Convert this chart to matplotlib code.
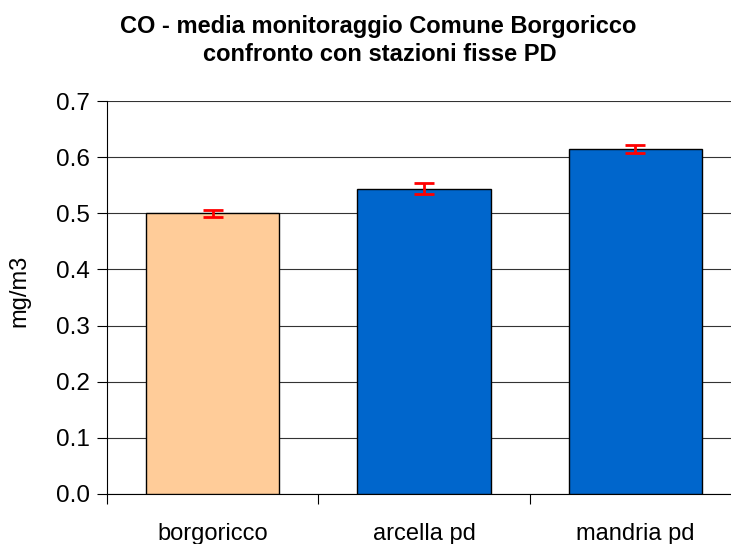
import numpy as np
import matplotlib
matplotlib.use("Agg")
import matplotlib.pyplot as plt

plt.rcParams['font.family'] = ['Liberation Sans', 'DejaVu Sans']

# data
stations = ['borgoricco', 'arcella pd', 'mandria pd']
means = [0.500, 0.544, 0.614]
errors = [0.006, 0.010, 0.007]
bar_colors = ['#FFCC99', '#0066CC', '#0066CC']
yticks = [0.0, 0.1, 0.2, 0.3, 0.4, 0.5, 0.6, 0.7]

W, H = 731, 544
fig = plt.figure(figsize=(W / 100, H / 100), dpi=100)
# axes runs past the right edge like the original (cropped)
left, right, top, bottom = 107, 741, 101, 494
ax = fig.add_axes([left / W, 1 - bottom / H, (right - left) / W, (bottom - top) / H])

x = np.arange(len(stations))
ax.bar(x, means, width=0.63, color=bar_colors, edgecolor='black', linewidth=1.0, zorder=3)
ax.errorbar(x, means, yerr=errors, fmt='none', ecolor='red', elinewidth=2,
            capsize=7, capthick=2, zorder=4)

ax.set_xlim(-0.5, len(stations) - 0.5)
ax.set_ylim(0, 0.7)
ax.set_yticks(yticks)
ax.set_yticklabels(['%.1f' % v for v in yticks])
ax.yaxis.grid(True, color='#333333', linewidth=0.8, zorder=0)
ax.set_axisbelow(True)

# category labels between boundary ticks
ax.set_xticks(np.arange(len(stations) + 1) - 0.5)
ax.set_xticklabels([])
ax.set_xticks(x, minor=True)
ax.set_xticklabels(stations, minor=True, fontsize=17)
ax.tick_params(axis='x', which='minor', length=0, pad=21)
ax.tick_params(axis='x', which='major', length=7, direction='out', width=0.8)
ax.tick_params(axis='y', length=7, direction='out', width=0.8, labelsize=17.5, pad=5)

for s in ['top', 'right']:
    ax.spines[s].set_visible(False)
ax.spines['left'].set_linewidth(0.8)
ax.spines['bottom'].set_linewidth(0.8)

ax.set_ylabel('mg/m3', fontsize=17)
ax.yaxis.set_label_coords(-0.121, 0.517)

fig.text(378 / W, 1 - 33 / H, 'CO - media monitoraggio Comune Borgoricco',
         ha='center', va='baseline', fontsize=17, fontweight='bold')
fig.text(380 / W, 1 - 61 / H, 'confronto con stazioni fisse PD',
         ha='center', va='baseline', fontsize=17, fontweight='bold')

fig.savefig('out.png', dpi=100)
